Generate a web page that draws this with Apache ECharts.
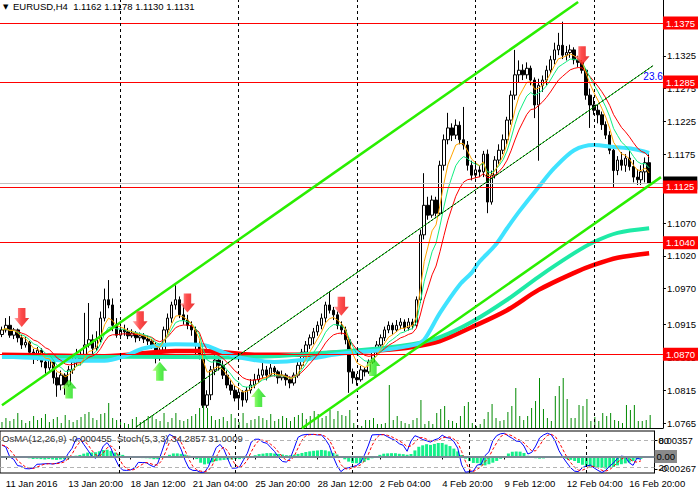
<!DOCTYPE html>
<html><head><meta charset="utf-8">
<script src="https://cdn.jsdelivr.net/npm/echarts@6/dist/echarts.min.js"></script>
<style>html,body{margin:0;padding:0;background:#fff;overflow:hidden}#c{width:699px;height:498px}</style>
</head><body><div id="c"></div>
<script>
// ---------- data ----------
const days = ['11 Jan','12 Jan','13 Jan','14 Jan','15 Jan','18 Jan','19 Jan','20 Jan','21 Jan','22 Jan','25 Jan','26 Jan','27 Jan','28 Jan','29 Jan','1 Feb','2 Feb','3 Feb','4 Feb','5 Feb','8 Feb','9 Feb','10 Feb','11 Feb','12 Feb','15 Feb','16 Feb','17 Feb'];
const hours = ['00:00','04:00','08:00','12:00','16:00','20:00'];
const xTickIdx = [1,17,33,49,65,81,97,113,129,145,161];
const xTickLabels = ['11 Jan 2016','13 Jan 20:00','18 Jan 12:00','21 Jan 04:00','25 Jan 20:00','28 Jan 12:00','2 Feb 04:00','4 Feb 20:00','9 Feb 12:00','12 Feb 04:00','16 Feb 20:00'];
const priceTicks = [1.1375,1.1325,1.1275,1.1225,1.1175,1.1125,1.1070,1.1020,1.0970,1.0915,1.0865,1.0815,1.0765];
const priceLabels = [1.1325,1.1275,1.1225,1.1175,1.1070,1.1020,1.0970,1.0915,1.0865,1.0815,1.0765];
const redLevels = [1.1375,1.1285,1.1125,1.1040,1.0870];
const bidLevel = 1.1131;
const weekStarts = [30,60,90,120,150];

const opens = [1.0900,1.0907,1.0914,1.0899,1.0907,1.0895,1.0884,1.0888,1.0873,1.0864,1.0876,1.0858,1.0849,1.0861,1.0834,1.0823,1.0838,1.0823,1.0846,1.0858,
1.0869,1.0861,1.0884,1.0892,1.0879,1.0892,1.0925,1.0953,1.0945,1.0914,1.0899,1.0907,1.0904,1.0898,1.0902,1.0895,1.0898,1.0893,1.0890,1.0884,
1.0864,1.0876,1.0907,1.0925,1.0945,1.0953,1.0930,1.0922,1.0914,1.0907,1.0884,1.0869,1.0792,1.0808,1.0846,1.0861,1.0853,1.0838,1.0823,1.0815,
1.0803,1.0812,1.0800,1.0815,1.0823,1.0831,1.0838,1.0846,1.0838,1.0849,1.0843,1.0834,1.0838,1.0831,1.0826,1.0838,1.0853,1.0873,1.0884,1.0895,
1.0904,1.0914,1.0925,1.0945,1.0937,1.0930,1.0914,1.0907,1.0892,1.0843,1.0834,1.0831,1.0846,1.0843,1.0858,1.0876,1.0884,1.0895,1.0907,1.0914,
1.0907,1.0914,1.0919,1.0910,1.0919,1.0914,1.0953,1.1052,1.1097,1.1082,1.1105,1.1085,1.1158,1.1197,1.1215,1.1204,1.1219,1.1197,1.1189,1.1158,
1.1143,1.1151,1.1148,1.1175,1.1102,1.1143,1.1166,1.1181,1.1197,1.1227,1.1265,1.1296,1.1303,1.1296,1.1306,1.1288,1.1250,1.1280,1.1288,1.1303,
1.1319,1.1334,1.1341,1.1326,1.1330,1.1334,1.1319,1.1315,1.1303,1.1265,1.1250,1.1242,1.1235,1.1220,1.1204,1.1181,1.1150,1.1166,1.1158,1.1169,
1.1156,1.1140,1.1136,1.1148,1.1162];
const highs = [1.0912,1.0925,1.0928,1.0910,1.0909,1.0899,1.0896,1.0890,1.0878,1.0881,1.0879,1.0866,1.0868,1.0863,1.0842,1.0845,1.0841,1.0852,1.0866,1.0878,
1.0875,1.0933,1.0948,1.0900,1.0905,1.0935,1.0970,1.0983,1.0955,1.0925,1.0912,1.0915,1.0910,1.0908,1.0905,1.0903,1.0902,1.0898,1.0893,1.0888,
1.0880,1.0912,1.0932,1.0950,1.0975,1.0958,1.0945,1.0930,1.0920,1.0912,1.0890,1.0872,1.0815,1.0852,1.0870,1.0866,1.0860,1.0845,1.0830,1.0822,
1.0818,1.0815,1.0820,1.0832,1.0840,1.0848,1.0858,1.0852,1.0855,1.0852,1.0846,1.0845,1.0841,1.0836,1.0842,1.0858,1.0878,1.0890,1.0900,1.0910,
1.0920,1.0932,1.0950,1.0966,1.0942,1.0935,1.0920,1.0912,1.0896,1.0848,1.0840,1.0852,1.0850,1.0862,1.0880,1.0890,1.0900,1.0912,1.0920,1.0918,
1.0922,1.0925,1.0923,1.0925,1.0924,1.0958,1.1060,1.1146,1.1110,1.1112,1.1110,1.1165,1.1205,1.1238,1.1222,1.1228,1.1225,1.1247,1.1195,1.1165,
1.1160,1.1158,1.1180,1.1182,1.1150,1.1172,1.1190,1.1205,1.1232,1.1272,1.1334,1.1318,1.1312,1.1315,1.1310,1.1292,1.1290,1.1295,1.1310,1.1325,
1.1345,1.1360,1.1377,1.1340,1.1342,1.1338,1.1325,1.1318,1.1306,1.1275,1.1262,1.1250,1.1240,1.1225,1.1210,1.1185,1.1172,1.1178,1.1175,1.1180,
1.1166,1.1152,1.1158,1.1170,1.1178];
const lows = [1.0896,1.0903,1.0895,1.0893,1.0888,1.0878,1.0880,1.0866,1.0855,1.0860,1.0850,1.0840,1.0845,1.0825,1.0805,1.0815,1.0808,1.0820,1.0840,1.0852,
1.0853,1.0858,1.0880,1.0870,1.0875,1.0888,1.0920,1.0940,1.0905,1.0895,1.0893,1.0898,1.0893,1.0895,1.0888,1.0890,1.0887,1.0884,1.0878,1.0856,
1.0860,1.0872,1.0900,1.0918,1.0938,1.0925,1.0915,1.0908,1.0898,1.0870,1.0862,1.0788,1.0788,1.0800,1.0838,1.0845,1.0832,1.0818,1.0808,1.0798,
1.0789,1.0790,1.0796,1.0810,1.0818,1.0826,1.0832,1.0830,1.0835,1.0836,1.0825,1.0830,1.0822,1.0818,1.0822,1.0834,1.0848,1.0865,1.0878,1.0885,
1.0898,1.0908,1.0918,1.0932,1.0922,1.0908,1.0900,1.0885,1.0811,1.0825,1.0822,1.0828,1.0836,1.0840,1.0855,1.0870,1.0880,1.0890,1.0902,1.0900,
1.0904,1.0908,1.0905,1.0906,1.0908,1.0910,1.0948,1.1045,1.1075,1.1078,1.1080,1.1082,1.1150,1.1190,1.1195,1.1198,1.1190,1.1182,1.1150,1.1135,
1.1138,1.1140,1.1140,1.1085,1.1098,1.1138,1.1160,1.1175,1.1190,1.1220,1.1258,1.1285,1.1288,1.1290,1.1280,1.1230,1.1165,1.1270,1.1280,1.1298,
1.1312,1.1326,1.1320,1.1318,1.1322,1.1312,1.1308,1.1298,1.1258,1.1215,1.1235,1.1222,1.1212,1.1198,1.1175,1.1125,1.1143,1.1150,1.1148,1.1150,
1.1132,1.1128,1.1128,1.1132,1.1130];
const closes = [1.0907,1.0914,1.0899,1.0907,1.0895,1.0884,1.0888,1.0873,1.0864,1.0876,1.0858,1.0849,1.0861,1.0834,1.0823,1.0838,1.0823,1.0846,1.0858,1.0869,
1.0861,1.0884,1.0892,1.0879,1.0892,1.0925,1.0953,1.0945,1.0914,1.0899,1.0907,1.0904,1.0898,1.0902,1.0895,1.0898,1.0893,1.0890,1.0884,1.0864,
1.0876,1.0907,1.0925,1.0945,1.0953,1.0930,1.0922,1.0914,1.0907,1.0884,1.0869,1.0792,1.0808,1.0846,1.0861,1.0853,1.0838,1.0823,1.0815,1.0803,
1.0812,1.0800,1.0815,1.0823,1.0831,1.0838,1.0846,1.0838,1.0849,1.0843,1.0834,1.0838,1.0831,1.0826,1.0838,1.0853,1.0873,1.0884,1.0895,1.0904,
1.0914,1.0925,1.0945,1.0937,1.0930,1.0914,1.0907,1.0892,1.0843,1.0834,1.0831,1.0846,1.0843,1.0858,1.0876,1.0884,1.0895,1.0907,1.0914,1.0907,
1.0914,1.0919,1.0910,1.0919,1.0914,1.0953,1.1052,1.1097,1.1082,1.1105,1.1085,1.1158,1.1197,1.1215,1.1204,1.1219,1.1197,1.1189,1.1158,1.1143,
1.1151,1.1148,1.1175,1.1102,1.1143,1.1166,1.1181,1.1197,1.1227,1.1265,1.1296,1.1303,1.1296,1.1306,1.1288,1.1250,1.1280,1.1288,1.1303,1.1319,
1.1334,1.1341,1.1326,1.1330,1.1334,1.1319,1.1315,1.1303,1.1265,1.1250,1.1242,1.1235,1.1220,1.1204,1.1181,1.1150,1.1166,1.1158,1.1169,1.1156,
1.1140,1.1136,1.1148,1.1162,1.1131];
const volumes = [6,10,7,9,15,8,5,7,12,8,10,14,6,9,11,5,13,8,6,8,11,14,16,10,8,14,15,25,10,8,7,5,4,9,11,6,8,12,13,9,
7,15,6,10,15,8,7,9,12,14,20,22,20,12,8,9,11,7,14,10,6,15,5,8,9,12,10,8,14,7,9,12,10,7,11,13,15,9,12,17,14,10,12,18,9,
17,13,12,18,5,3,2,8,8,10,4,4,5,43,8,12,7,5,4,8,10,28,4,7,4,15,19,22,8,7,5,12,22,26,5,2,4,9,16,24,
10,7,8,16,22,40,12,8,12,20,27,53,19,10,7,32,42,52,29,10,10,23,22,29,7,11,7,15,12,15,8,7,5,23,18,23,7,7,8,13];

// long moving averages read at points [barIndex, price]
const maCyanPts = [[0,1.0866],[9,1.0864],[16,1.0860],[26,1.0860],[31,1.0867],[36,1.0879],[44,1.0885],[51,1.0884],[56,1.0873],[61,1.0864],[69,1.0858],[76,1.0861],[84,1.0869],[89,1.0873],[96,1.0876],[105,1.0885],[107,1.0892],[111,1.0933],[116,1.0976],[119,1.0994],[121,1.1011],[125,1.1036],[128,1.1062],[131,1.1087],[136,1.1125],[140,1.1154],[145,1.1181],[150,1.1189],[155,1.1186],[160,1.1183],[164,1.1177]];
const maTealPts = [[0,1.0866],[30,1.0866],[60,1.0865],[84,1.0873],[96,1.0879],[104,1.0885],[111,1.0896],[119,1.0919],[128,1.0953],[136,1.0988],[145,1.1024],[150,1.1041],[156,1.1055],[164,1.1062]];
const maRedPts = [[0,1.0869],[26,1.0867],[44,1.0875],[51,1.0875],[64,1.0869],[76,1.0869],[84,1.0872],[96,1.0876],[104,1.0881],[111,1.0890],[119,1.0911],[128,1.0937],[136,1.0968],[145,1.0994],[150,1.1006],[156,1.1017],[164,1.1024]];

// drawn objects: trend lines [barIndex, price]
const upperChannel = [[0,1.0792],[146,1.1407]];
const lowerChannel = [[76,1.0757],[167,1.1140]];
const trendLine = [[34,1.0759],[165,1.1310]];
const fiboLabel = [165,1.1293];
const redArrows = [[5,1.0926],[35,1.0921],[47,1.0948],[86,1.0943],[147,1.1325]];
const greenArrows = [[17,1.0817],[40,1.0844],[65,1.0804],[94,1.0851]];

// ---------- indicators derived from the candles ----------
const categories = [];
days.forEach(d => hours.forEach(h => categories.push(d + ' ' + h)));
function ema(src, n){ const k = 2/(n+1); const out = []; let v = src[0];
  for (let i=0;i<src.length;i++){ if(i>0) v = v + k*(src[i]-v); out.push(v); } return out; }
function sma(src, n){ const out=[]; for(let i=0;i<src.length;i++){ let s=0,c=0; for(let j=Math.max(0,i-n+1);j<=i;j++){s+=src[j];c++;} out.push(s/c);} return out; }
const ema5 = ema(closes,5), ema8 = ema(closes,8), ema13 = ema(closes,13);
const e12 = ema(closes,12), e26 = ema(closes,26);
const macd = e12.map((v,i)=>v-e26[i]);
const sig = sma(macd,9);
const osma = macd.map((v,i)=>v-sig[i]);
const stochK = [];
for (let i=0;i<closes.length;i++){
  let num=0, den=0;
  for (let j=Math.max(0,i-2); j<=i; j++){
    let ll=Infinity, hh=-Infinity;
    for (let m=Math.max(0,j-4); m<=j; m++){ ll=Math.min(ll,lows[m]); hh=Math.max(hh,highs[m]); }
    num += closes[j]-ll; den += hh-ll;
  }
  stochK.push(den>0 ? num/den*100 : 50);
}
const stochD = sma(stochK,3);
const candleData = opens.map((o,i)=>[o, closes[i], lows[i], highs[i]]);
const idxd = a => a.map((v,i)=>[i,v]);

const FONT = 'Liberation Sans';
const FS = 9.5;
const chart = echarts.init(document.getElementById('c'), null, {renderer:'svg'});
const downArrow = 'path://M4,0 L12,0 L12,10 L16,10 L8,19 L0,10 L4,10 Z';
const upArrow = 'path://M8,0 L16,9 L12,9 L12,19 L4,19 L4,9 L0,9 Z';

const option = {
  animation:false,
  backgroundColor:'#fff',
  textStyle:{fontFamily:FONT},
  grid:[
    {left:-8, top:0, width:672, height:428},
    {left:-8, top:431, width:672, height:42, show:true, borderColor:'#000', borderWidth:1},
    {left:-8, top:378, width:672, height:50}
  ],
  xAxis:[
    {type:'category', gridIndex:0, data:categories, boundaryGap:true,
     axisLine:{show:true, lineStyle:{color:'#000', width:1}}, axisTick:{show:false}, axisLabel:{show:false}, splitLine:{show:false}},
    {type:'category', gridIndex:1, data:categories, boundaryGap:true,
     axisLine:{show:true, lineStyle:{color:'#000'}},
     axisTick:{show:true, alignWithLabel:true, length:3, interval:(i)=>xTickIdx.includes(i), lineStyle:{color:'#000'}},
     axisLabel:{show:true, interval:(i)=>xTickIdx.includes(i), formatter:(v,i)=>xTickLabels[xTickIdx.indexOf(i)] || '',
       align:'left', color:'#000', fontSize:FS, fontFamily:FONT, margin:5},
     splitLine:{show:false}},
    {type:'category', gridIndex:2, data:categories, boundaryGap:true, show:false}
  ],
  yAxis:[
    {type:'value', gridIndex:0, position:'right', min:1.07574, max:1.14101,
     axisLine:{show:true, lineStyle:{color:'#000'}},
     axisTick:{show:true, length:3, customValues:priceTicks, lineStyle:{color:'#000'}},
     axisLabel:{show:true, customValues:priceLabels, formatter:v=>v.toFixed(4), color:'#000', fontSize:FS, fontFamily:FONT, margin:4},
     splitLine:{show:false}},
    {type:'value', gridIndex:1, position:'right', min:-0.00357, max:0.00552,
     axisLine:{show:true, lineStyle:{color:'#000'}},
     axisTick:{show:true, length:3, customValues:[0.00357,-0.00267], lineStyle:{color:'#000'}},
     axisLabel:{show:true, customValues:[0.00357,-0.00267], formatter:v=>v.toFixed(5), color:'#000', fontSize:FS, fontFamily:FONT, margin:4},
     splitLine:{show:false}},
    {type:'value', gridIndex:1, position:'right', min:6.67, max:100,
     axisLine:{show:false}, axisTick:{show:false},
     axisLabel:{show:true, customValues:[80,20], formatter:v=>String(v), color:'#000', fontSize:FS, fontFamily:FONT, margin:4},
     splitLine:{show:false}},
    {type:'value', gridIndex:2, min:0, max:50, show:false}
  ],
  graphic:[
    {type:'text', left:3, top:3, style:{text:'▼', fontSize:7, fill:'#000', fontFamily:'DejaVu Sans'}},
    {type:'text', left:13, top:1, style:{text:'EURUSD,H4  1.1162 1.1178 1.1130 1.1131', fontSize:FS, fontFamily:FONT, fill:'#000'}},
    {type:'text', left:2, top:433, z:100, style:{text:'OsMA(12,26,9) -0.000455', fontSize:FS, fontFamily:FONT, fill:'#333'}},
    {type:'text', left:117, top:433, z:100, style:{text:'Stoch(5,3,3) 34.2857 31.0009', fontSize:FS, fontFamily:FONT, fill:'#333'}}
  ],
  series:[
    {type:'bar', name:'vol', xAxisIndex:2, yAxisIndex:3, data:volumes, barWidth:1, itemStyle:{color:'#008a00'}, z:1, silent:true},
    {type:'candlestick', name:'EURUSD', xAxisIndex:0, yAxisIndex:0, data:candleData, barWidth:3, z:2,
     itemStyle:{color:'#ffffff', color0:'#000000', borderColor:'#000000', borderColor0:'#000000', borderWidth:1},
     markLine:{silent:true, symbol:['none','none'], animation:false, precision:5,
       data:[
         {yAxis:bidLevel, lineStyle:{color:'#c0c0c0', width:1, type:'solid'},
          label:{show:true, position:'end', distance:0, formatter:bidLevel.toFixed(4), color:'#fff', backgroundColor:'#000', padding:[2,3,1,3], fontSize:FS, fontFamily:FONT}}
       ].concat(redLevels.map(v=>({yAxis:v, lineStyle:{color:'#ff0000', width:1, type:'solid'},
          label:{show:true, position:'end', distance:0, formatter:v.toFixed(4), color:'#fff', backgroundColor:'#ff0000', padding:[2,3,1,3], fontSize:FS, fontFamily:FONT}})))
     }},
    {type:'line', name:'maRed', xAxisIndex:0, yAxisIndex:0, data:maRedPts, smooth:0.3, showSymbol:false, z:3, lineStyle:{color:'#ff0000', width:4.5}},
    {type:'line', name:'maTeal', xAxisIndex:0, yAxisIndex:0, data:maTealPts, smooth:0.3, showSymbol:false, z:3, lineStyle:{color:'#1eeaa6', width:4}},
    {type:'line', name:'maCyan', xAxisIndex:0, yAxisIndex:0, data:maCyanPts, smooth:0.3, showSymbol:false, z:3, lineStyle:{color:'#3fe3ff', width:4}},
    {type:'line', name:'ema13', xAxisIndex:0, yAxisIndex:0, data:idxd(ema13), showSymbol:false, z:4, lineStyle:{color:'#ff0000', width:1},
     markLine:{silent:true, symbol:['none','none'], label:{show:false}, lineStyle:{color:'#000', type:[3,3], width:1},
       data:weekStarts.map(i=>({xAxis:i}))}},
    {type:'line', name:'ema8', xAxisIndex:0, yAxisIndex:0, data:idxd(ema8), showSymbol:false, z:4, lineStyle:{color:'#10ee80', width:1}},
    {type:'line', name:'ema5', xAxisIndex:0, yAxisIndex:0, data:idxd(ema5), showSymbol:false, z:4, lineStyle:{color:'#ffa500', width:1}},
    {type:'line', name:'upper', xAxisIndex:0, yAxisIndex:0, data:upperChannel, showSymbol:false, z:5, lineStyle:{color:'#2aee00', width:2.5}},
    {type:'line', name:'lower', xAxisIndex:0, yAxisIndex:0, data:lowerChannel, showSymbol:false, z:5, lineStyle:{color:'#2aee00', width:2.5}},
    {type:'line', name:'trendG', xAxisIndex:0, yAxisIndex:0, data:trendLine, showSymbol:false, z:5, lineStyle:{color:'#00d000', width:1}},
    {type:'line', name:'trendB', xAxisIndex:0, yAxisIndex:0, data:trendLine, showSymbol:false, z:5, lineStyle:{color:'#000', width:1, type:[2,2]},
     markPoint:{silent:true, symbol:'circle', symbolSize:1, itemStyle:{color:'rgba(0,0,0,0)'},
       data:[{coord:fiboLabel, label:{show:true, position:'inside', formatter:'23.6', color:'#0000ff', fontSize:FS+0.5, fontFamily:FONT}}]}},
    {type:'scatter', name:'sell', xAxisIndex:0, yAxisIndex:0, data:redArrows, symbol:downArrow, symbolSize:[15,19], z:6,
     itemStyle:{color:new echarts.graphic.LinearGradient(0,0,1,0,[{offset:0,color:'#ff9a9a'},{offset:0.45,color:'#ff2020'},{offset:1,color:'#e00000'}])}},
    {type:'scatter', name:'buy', xAxisIndex:0, yAxisIndex:0, data:greenArrows, symbol:upArrow, symbolSize:[15,19], z:6,
     itemStyle:{color:new echarts.graphic.LinearGradient(0,0,1,0,[{offset:0,color:'#b8ff70'},{offset:0.5,color:'#33ee22'},{offset:1,color:'#10cc10'}])}},
    {type:'bar', name:'OsMA', xAxisIndex:1, yAxisIndex:1, data:osma, barWidth:3, z:2, itemStyle:{color:'#14f08a'},
     markLine:{silent:true, symbol:['none','none'], precision:5, data:[
       {yAxis:0, lineStyle:{color:'#7a8894', width:2, type:'solid'},
        label:{show:true, position:'end', distance:0, formatter:'0.00', color:'#000', backgroundColor:'#8a8a8a', padding:[2,2,1,2], fontSize:FS, fontFamily:FONT}}
     ].concat(weekStarts.map(i=>({xAxis:i, lineStyle:{color:'#000', type:[3,3], width:1}, label:{show:false}})))}},
    {type:'line', name:'StochK', xAxisIndex:1, yAxisIndex:2, data:stochK, showSymbol:false, z:4, lineStyle:{color:'#0000ff', width:1},
     markLine:{silent:true, symbol:['none','none'], label:{show:false}, lineStyle:{color:'#b4b4b4', type:[4,3], width:1},
       data:[{yAxis:80},{yAxis:20}]}},
    {type:'line', name:'StochD', xAxisIndex:1, yAxisIndex:2, data:stochD, showSymbol:false, z:4, lineStyle:{color:'#ff0000', width:1, type:[3,2]}}
  ]
};
chart.setOption(option);
</script></body></html>
